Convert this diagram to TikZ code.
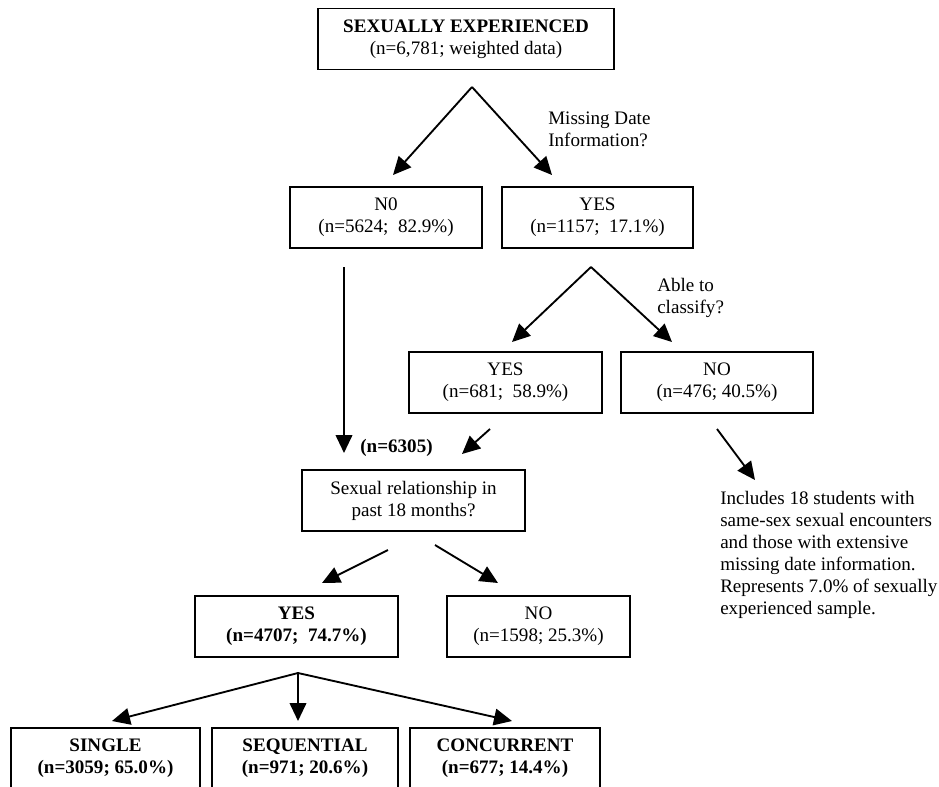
\documentclass[tikz,border=0pt]{standalone}
\usepackage{fontspec}
\setmainfont{Liberation Serif}
\usetikzlibrary{arrows.meta}
\begin{document}
\begin{tikzpicture}[x=0.75pt,y=-0.75pt,
    box/.style={draw,line width=1.1pt,minimum height=46pt,inner sep=0pt,
      align=center,font=\fontsize{14.3}{16.5}\selectfont},
    txt/.style={inner sep=0pt,align=left,font=\fontsize{14.3}{16.5}\selectfont},
    >={Triangle[length=13.5pt,width=12.5pt]}]
      \useasboundingbox (0,0) rectangle (939,786);
      \draw
        (466,39) node[box,minimum width=222pt] (top){\textbf{SEXUALLY EXPERIENCED}\\(n=6,781; weighted data)}
        (386,217.5) node[box,minimum width=144pt] (no1){N0\\(n=5624;\ \ 82.9\%)}
        (597.5,217.5) node[box,minimum width=143pt] (yes1){YES\\(n=1157;\ \ 17.1\%)}
        (505.5,382.5) node[box,minimum width=145pt] (yes2){YES\\(n=681;\ \ 58.9\%)}
        (717,382.5) node[box,minimum width=144pt] (no2){NO\\(n=476; 40.5\%)}
        (413.5,500.5) node[box,minimum width=167pt] (rel){Sexual relationship in\\past 18 months?}
        (296.5,626.5) node[box,minimum width=152pt] (yes3){\textbf{YES}\\\textbf{(n=4707;\ \ 74.7\%)}}
        (538.5,626.5) node[box,minimum width=137pt] (no3){NO\\(n=1598; 25.3\%)}
        (105.5,758.5) node[box,minimum width=142pt] (single){\textbf{SINGLE}\\\textbf{(n=3059; 65.0\%)}}
        (305,758.5) node[box,minimum width=139.5pt] (seq){\textbf{SEQUENTIAL}\\\textbf{(n=971; 20.6\%)}}
        (505,758.5) node[box,minimum width=142.5pt] (conc){\textbf{CONCURRENT}\\\textbf{(n=677; 14.4\%)}};
      \path
        (548,129) node[txt,anchor=west] (qdate){Missing Date\\Information?}
        (657,297.5) node[txt,anchor=west] (qclass){Able to\\classify?}
        (396.5,448) node[txt] (total){\textbf{(n=6305)}}
        (720,555) node[txt,anchor=west] (note){Includes 18 students with\\same-sex sexual encounters\\and those with extensive\\missing date information.\\Represents 7.0\% of sexually\\experienced sample.};
      % arrow ends
      \coordinate (s1) at (472,87);
      \coordinate (s1l) at (393,175);
      \coordinate (s1r) at (552,175);
      \coordinate (s2) at (591,267);
      \coordinate (s2l) at (512,342);
      \coordinate (s2r) at (672,342);
      \coordinate (d0) at (344,267);
      \coordinate (d1) at (344,453);
      \coordinate (y0) at (490,429);
      \coordinate (y1) at (462,454);
      \coordinate (n0) at (717,429);
      \coordinate (n1) at (755,480);
      \coordinate (r0) at (388,550);
      \coordinate (r1) at (322,583);
      \coordinate (r2) at (435,545);
      \coordinate (r3) at (498,583);
      \coordinate (s3) at (298,673);
      \coordinate (s3l) at (112,721);
      \coordinate (s3m) at (298,721);
      \coordinate (s3r) at (512,721);
      \begin{scope}[->,line width=1.4pt]
        \draw (s1) to (s1l);
        \draw (s1) to (s1r);
        \draw (s2) to (s2l);
        \draw (s2) to (s2r);
        \draw (d0) to (d1);
        \draw (y0) to (y1);
        \draw (n0) to (n1);
        \draw (r0) to (r1);
        \draw (r2) to (r3);
        \draw (s3) to (s3l);
        \draw (s3) to (s3m);
        \draw (s3) to (s3r);
      \end{scope}
    \end{tikzpicture}
\end{document}
